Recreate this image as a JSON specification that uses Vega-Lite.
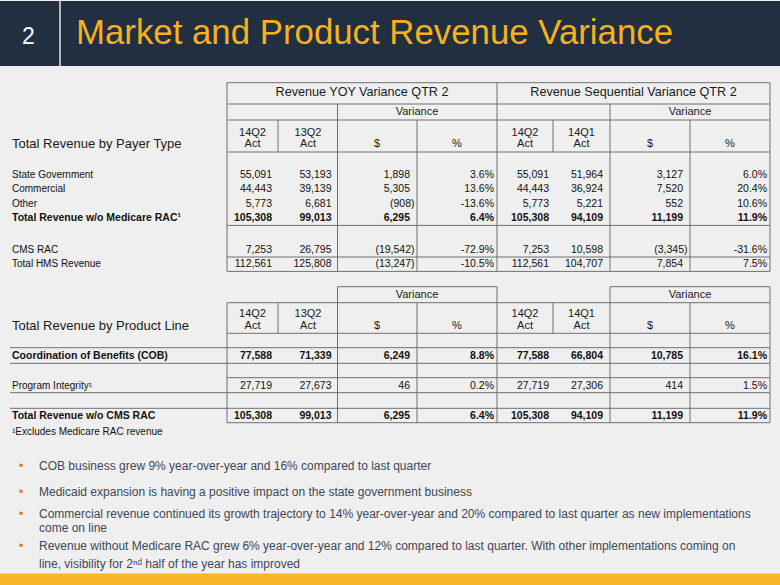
{
  "$schema": "https://vega.github.io/schema/vega-lite/v6.json",
  "width": 780,
  "height": 585,
  "autosize": {"type": "fit", "contains": "padding"},
  "padding": 0,
  "background": "#efefef",
  "config": {
    "view": {"stroke": null},
    "axis": {"disable": true},
    "text": {"font": "Liberation Sans"}
  },
  "datasets": {
    "grid": [
      {"x": 8, "x2": 26, "y": 3, "y2": 3},
      {"x": 8, "x2": 26, "y": 5, "y2": 5},
      {"x": 8, "x2": 26, "y": 7, "y2": 7},
      {"x": 8, "x2": 26, "y": 10, "y2": 10},
      {"x": 8, "x2": 26, "y": 15, "y2": 15},
      {"x": 8, "x2": 26, "y": 17, "y2": 17},
      {"x": 8, "x2": 26, "y": 19, "y2": 19},
      {"x": 8, "x2": 8, "y": 3, "y2": 19},
      {"x": 10, "x2": 10, "y": 7, "y2": 10},
      {"x": 12, "x2": 12, "y": 5, "y2": 19},
      {"x": 15, "x2": 15, "y": 7, "y2": 19},
      {"x": 17, "x2": 17, "y": 3, "y2": 19},
      {"x": 19, "x2": 19, "y": 7, "y2": 10},
      {"x": 21, "x2": 21, "y": 5, "y2": 19},
      {"x": 24, "x2": 24, "y": 7, "y2": 19},
      {"x": 26, "x2": 26, "y": 3, "y2": 19},
      {"x": 12, "x2": 17, "y": 20, "y2": 20},
      {"x": 21, "x2": 26, "y": 20, "y2": 20},
      {"x": 8, "x2": 26, "y": 22, "y2": 22},
      {"x": 8, "x2": 26, "y": 25, "y2": 25},
      {"x": 1, "x2": 26, "y": 26, "y2": 26},
      {"x": 1, "x2": 26, "y": 28, "y2": 28},
      {"x": 8, "x2": 26, "y": 29, "y2": 29},
      {"x": 1, "x2": 26, "y": 31, "y2": 31},
      {"x": 1, "x2": 26, "y": 32, "y2": 32},
      {"x": 8, "x2": 26, "y": 34, "y2": 34},
      {"x": 8, "x2": 8, "y": 22, "y2": 34},
      {"x": 10, "x2": 10, "y": 22, "y2": 25},
      {"x": 12, "x2": 12, "y": 20, "y2": 34},
      {"x": 15, "x2": 15, "y": 22, "y2": 34},
      {"x": 17, "x2": 17, "y": 20, "y2": 34},
      {"x": 19, "x2": 19, "y": 22, "y2": 25},
      {"x": 21, "x2": 21, "y": 20, "y2": 34},
      {"x": 24, "x2": 24, "y": 22, "y2": 34},
      {"x": 26, "x2": 26, "y": 20, "y2": 34}
    ],
    "headers": [
      {"x": 13, "y": 4, "v": "Revenue YOY Variance QTR 2", "k": "h1"},
      {"x": 22, "y": 4, "v": "Revenue Sequential Variance QTR 2", "k": "h1"},
      {"x": 15, "y": 6, "v": "Variance", "k": "h2"},
      {"x": 24, "y": 6, "v": "Variance", "k": "h2"},
      {"x": 9, "y": 8, "v": "14Q2", "k": "h2"},
      {"x": 9, "y": 9, "v": "Act", "k": "h2"},
      {"x": 11, "y": 8, "v": "13Q2", "k": "h2"},
      {"x": 11, "y": 9, "v": "Act", "k": "h2"},
      {"x": 14, "y": 9, "v": "$", "k": "h2"},
      {"x": 16, "y": 9, "v": "%", "k": "h2"},
      {"x": 18, "y": 8, "v": "14Q2", "k": "h2"},
      {"x": 18, "y": 9, "v": "Act", "k": "h2"},
      {"x": 20, "y": 8, "v": "14Q1", "k": "h2"},
      {"x": 20, "y": 9, "v": "Act", "k": "h2"},
      {"x": 23, "y": 9, "v": "$", "k": "h2"},
      {"x": 25, "y": 9, "v": "%", "k": "h2"},
      {"x": 2, "y": 9, "v": "Total Revenue by Payer Type", "k": "h0"},
      {"x": 15, "y": 21, "v": "Variance", "k": "h2"},
      {"x": 24, "y": 21, "v": "Variance", "k": "h2"},
      {"x": 9, "y": 23, "v": "14Q2", "k": "h2"},
      {"x": 9, "y": 24, "v": "Act", "k": "h2"},
      {"x": 11, "y": 23, "v": "13Q2", "k": "h2"},
      {"x": 11, "y": 24, "v": "Act", "k": "h2"},
      {"x": 14, "y": 24, "v": "$", "k": "h2"},
      {"x": 16, "y": 24, "v": "%", "k": "h2"},
      {"x": 18, "y": 23, "v": "14Q2", "k": "h2"},
      {"x": 18, "y": 24, "v": "Act", "k": "h2"},
      {"x": 20, "y": 23, "v": "14Q1", "k": "h2"},
      {"x": 20, "y": 24, "v": "Act", "k": "h2"},
      {"x": 23, "y": 24, "v": "$", "k": "h2"},
      {"x": 25, "y": 24, "v": "%", "k": "h2"},
      {"x": 2, "y": 24, "v": "Total Revenue by Product Line", "k": "h0"}
    ],
    "cells": [
      {"r": 11, "t": 0, "c": 2, "v": "State Government"},
      {"r": 11, "t": 0, "c": 10, "v": "55,091"},
      {"r": 11, "t": 0, "c": 12, "v": "53,193"},
      {"r": 11, "t": 0, "c": 15, "v": "1,898"},
      {"r": 11, "t": 0, "c": 17, "v": "3.6%"},
      {"r": 11, "t": 0, "c": 19, "v": "55,091"},
      {"r": 11, "t": 0, "c": 21, "v": "51,964"},
      {"r": 11, "t": 0, "c": 24, "v": "3,127"},
      {"r": 11, "t": 0, "c": 26, "v": "6.0%"},
      {"r": 12, "t": 0, "c": 2, "v": "Commercial"},
      {"r": 12, "t": 0, "c": 10, "v": "44,443"},
      {"r": 12, "t": 0, "c": 12, "v": "39,139"},
      {"r": 12, "t": 0, "c": 15, "v": "5,305"},
      {"r": 12, "t": 0, "c": 17, "v": "13.6%"},
      {"r": 12, "t": 0, "c": 19, "v": "44,443"},
      {"r": 12, "t": 0, "c": 21, "v": "36,924"},
      {"r": 12, "t": 0, "c": 24, "v": "7,520"},
      {"r": 12, "t": 0, "c": 26, "v": "20.4%"},
      {"r": 13, "t": 0, "c": 2, "v": "Other"},
      {"r": 13, "t": 0, "c": 10, "v": "5,773"},
      {"r": 13, "t": 0, "c": 12, "v": "6,681"},
      {"r": 13, "t": 0, "c": 15, "v": "(908)"},
      {"r": 13, "t": 0, "c": 17, "v": "-13.6%"},
      {"r": 13, "t": 0, "c": 19, "v": "5,773"},
      {"r": 13, "t": 0, "c": 21, "v": "5,221"},
      {"r": 13, "t": 0, "c": 24, "v": "552"},
      {"r": 13, "t": 0, "c": 26, "v": "10.6%"},
      {"r": 14, "t": 1, "c": 2, "v": "Total Revenue w/o Medicare RAC¹"},
      {"r": 14, "t": 1, "c": 10, "v": "105,308"},
      {"r": 14, "t": 1, "c": 12, "v": "99,013"},
      {"r": 14, "t": 1, "c": 15, "v": "6,295"},
      {"r": 14, "t": 1, "c": 17, "v": "6.4%"},
      {"r": 14, "t": 1, "c": 19, "v": "105,308"},
      {"r": 14, "t": 1, "c": 21, "v": "94,109"},
      {"r": 14, "t": 1, "c": 24, "v": "11,199"},
      {"r": 14, "t": 1, "c": 26, "v": "11.9%"},
      {"r": 16, "t": 0, "c": 2, "v": "CMS RAC"},
      {"r": 16, "t": 0, "c": 10, "v": "7,253"},
      {"r": 16, "t": 0, "c": 12, "v": "26,795"},
      {"r": 16, "t": 0, "c": 15, "v": "(19,542)"},
      {"r": 16, "t": 0, "c": 17, "v": "-72.9%"},
      {"r": 16, "t": 0, "c": 19, "v": "7,253"},
      {"r": 16, "t": 0, "c": 21, "v": "10,598"},
      {"r": 16, "t": 0, "c": 24, "v": "(3,345)"},
      {"r": 16, "t": 0, "c": 26, "v": "-31.6%"},
      {"r": 18, "t": 0, "c": 2, "v": "Total HMS Revenue"},
      {"r": 18, "t": 0, "c": 10, "v": "112,561"},
      {"r": 18, "t": 0, "c": 12, "v": "125,808"},
      {"r": 18, "t": 0, "c": 15, "v": "(13,247)"},
      {"r": 18, "t": 0, "c": 17, "v": "-10.5%"},
      {"r": 18, "t": 0, "c": 19, "v": "112,561"},
      {"r": 18, "t": 0, "c": 21, "v": "104,707"},
      {"r": 18, "t": 0, "c": 24, "v": "7,854"},
      {"r": 18, "t": 0, "c": 26, "v": "7.5%"},
      {"r": 27, "t": 1, "c": 2, "v": "Coordination of Benefits (COB)"},
      {"r": 27, "t": 1, "c": 10, "v": "77,588"},
      {"r": 27, "t": 1, "c": 12, "v": "71,339"},
      {"r": 27, "t": 1, "c": 15, "v": "6,249"},
      {"r": 27, "t": 1, "c": 17, "v": "8.8%"},
      {"r": 27, "t": 1, "c": 19, "v": "77,588"},
      {"r": 27, "t": 1, "c": 21, "v": "66,804"},
      {"r": 27, "t": 1, "c": 24, "v": "10,785"},
      {"r": 27, "t": 1, "c": 26, "v": "16.1%"},
      {"r": 30, "t": 0, "c": 2, "v": "Program Integrity¹"},
      {"r": 30, "t": 0, "c": 10, "v": "27,719"},
      {"r": 30, "t": 0, "c": 12, "v": "27,673"},
      {"r": 30, "t": 0, "c": 15, "v": "46"},
      {"r": 30, "t": 0, "c": 17, "v": "0.2%"},
      {"r": 30, "t": 0, "c": 19, "v": "27,719"},
      {"r": 30, "t": 0, "c": 21, "v": "27,306"},
      {"r": 30, "t": 0, "c": 24, "v": "414"},
      {"r": 30, "t": 0, "c": 26, "v": "1.5%"},
      {"r": 33, "t": 1, "c": 2, "v": "Total Revenue w/o CMS RAC"},
      {"r": 33, "t": 1, "c": 10, "v": "105,308"},
      {"r": 33, "t": 1, "c": 12, "v": "99,013"},
      {"r": 33, "t": 1, "c": 15, "v": "6,295"},
      {"r": 33, "t": 1, "c": 17, "v": "6.4%"},
      {"r": 33, "t": 1, "c": 19, "v": "105,308"},
      {"r": 33, "t": 1, "c": 21, "v": "94,109"},
      {"r": 33, "t": 1, "c": 24, "v": "11,199"},
      {"r": 33, "t": 1, "c": 26, "v": "11.9%"},
      {"r": 35, "t": 0, "c": 2, "v": "¹Excludes Medicare RAC revenue"}
    ],
    "bullets": [
      {"y": 36, "dot": true, "v": "COB business grew 9% year-over-year and 16% compared to last quarter"},
      {"y": 37, "dot": true, "v": "Medicaid expansion is having a positive impact on the state government business"},
      {"y": 38, "dot": true, "v": "Commercial revenue continued its growth trajectory to 14% year-over-year and 20% compared to last quarter as new implementations"},
      {"y": 39, "dot": false, "v": "come on line"},
      {"y": 40, "dot": true, "v": "Revenue without Medicare RAC grew 6% year-over-year and 12% compared to last quarter. With other implementations coming on"},
      {"y": 41, "dot": false, "v": "line, visibility for 2ⁿᵈ half of the year has improved"}
    ],
    "slide": [
      {"num": "2", "title": "Market and Product Revenue Variance"}
    ]
  },
  "layer": [
    {
      "data": {"name": "slide"},
      "mark": {"type": "rect", "color": "#212f41"},
      "encoding": {
        "x": {"datum": 0, "type": "quantitative", "scale": {"type": "linear", "zero": false, "nice": false, "domain": [0,1,2,3,4,5,6,7,8,9,10,11,12,13,14,15,16,17,18,19,20,21,22,23,24,25,26,27], "range": [0,10,12,21,28.5,39,60,76,227,252.5,278,308,337.5,362,377,417,457,497,525,553,581.5,610,633.5,650,690,730,770,780]}},
        "x2": {"datum": 27},
        "y": {"datum": 0, "type": "quantitative", "scale": {"type": "linear", "zero": false, "nice": false, "domain": [0,1,2,3,4,5,6,7,8,9,10,11,12,13,14,15,16,17,18,19,20,21,22,23,24,25,26,27,28,29,30,31,32,33,34,35,36,37,38,39,40,41,42,43], "range": [0,43,65,81.7,91,103,111,119,132.3,143,151,174,188.3,202.7,217.3,224.4,249,256,263.3,270.4,285.7,293.5,301.7,313.3,324.5,332.3,346.7,354.8,362.3,376.7,384.5,391.7,407.3,414.5,421.7,431,465,490.7,513.3,527.3,545,562.5,572.5,585]}},
        "y2": {"datum": 2}
      }
    },
    {
      "data": {"name": "slide"},
      "mark": {"type": "rect", "color": "#f8b62a"},
      "encoding": {
        "x": {"datum": 0, "type": "quantitative"},
        "x2": {"datum": 27},
        "y": {"datum": 42, "type": "quantitative"},
        "y2": {"datum": 43}
      }
    },
    {
      "data": {"name": "slide"},
      "mark": {"type": "rule", "color": "#e6e6e6", "strokeWidth": 1.5},
      "encoding": {
        "x": {"datum": 6, "type": "quantitative"},
        "y": {"datum": 0, "type": "quantitative"},
        "y2": {"datum": 2}
      }
    },
    {
      "data": {"name": "slide"},
      "mark": {"type": "text", "color": "#ffffff", "fontSize": 23, "align": "center", "baseline": "alphabetic"},
      "encoding": {
        "x": {"datum": 4, "type": "quantitative"},
        "y": {"datum": 1, "type": "quantitative"},
        "text": {"field": "num"}
      }
    },
    {
      "data": {"name": "slide"},
      "mark": {"type": "text", "color": "#f6b11b", "fontSize": 34.8, "align": "left", "baseline": "alphabetic"},
      "encoding": {
        "x": {"datum": 7, "type": "quantitative"},
        "y": {"datum": 1, "type": "quantitative"},
        "text": {"field": "title"}
      }
    },
    {
      "data": {"name": "grid"},
      "mark": {"type": "rule", "color": "#707070", "strokeWidth": 1},
      "encoding": {
        "x": {"field": "x", "type": "quantitative"},
        "x2": {"field": "x2"},
        "y": {"field": "y", "type": "quantitative"},
        "y2": {"field": "y2"}
      }
    },
    {
      "data": {"name": "headers"},
      "mark": {
        "type": "text",
        "color": "#1a1a1a",
        "baseline": "middle",
        "align": {"expr": "datum.k == 'h0' ? 'left' : 'center'"},
        "fontSize": {"expr": "datum.k == 'h0' ? 13 : datum.k == 'h1' ? 12.6 : 11"}
      },
      "encoding": {
        "x": {"field": "x", "type": "quantitative"},
        "y": {"field": "y", "type": "quantitative"},
        "text": {"field": "v"}
      }
    },
    {
      "data": {"name": "cells"},
      "mark": {
        "type": "text",
        "color": "#111111",
        "baseline": "middle",
        "fontSize": {"expr": "datum.c == 2 && datum.t == 0 ? 10 : 10.5"},
        "align": {"expr": "datum.c == 2 ? 'left' : 'right'"},
        "fontWeight": {"expr": "datum.t == 1 ? 'bold' : 'normal'"},
        "dx": {"expr": "datum.c == 2 ? 0 : (datum.c == 15 || datum.c == 24) ? (datum.v[0] == '(' ? -2.5 : -7) : (datum.c == 17 || datum.c == 26) ? -3 : datum.c == 19 ? -4 : datum.c == 21 ? -7 : -6"}
      },
      "encoding": {
        "x": {"field": "c", "type": "quantitative"},
        "y": {"field": "r", "type": "quantitative"},
        "text": {"field": "v"}
      }
    },
    {
      "data": {"name": "bullets"},
      "transform": [{"filter": "datum.dot"}],
      "mark": {"type": "text", "color": "#ef7b23", "fontSize": 13, "align": "center", "baseline": "middle"},
      "encoding": {
        "x": {"datum": 3, "type": "quantitative"},
        "y": {"field": "y", "type": "quantitative"},
        "text": {"value": "•"}
      }
    },
    {
      "data": {"name": "bullets"},
      "mark": {"type": "text", "color": "#3e4757", "fontSize": 12, "align": "left", "baseline": "middle"},
      "encoding": {
        "x": {"datum": 5, "type": "quantitative"},
        "y": {"field": "y", "type": "quantitative"},
        "text": {"field": "v"}
      }
    }
  ]
}
